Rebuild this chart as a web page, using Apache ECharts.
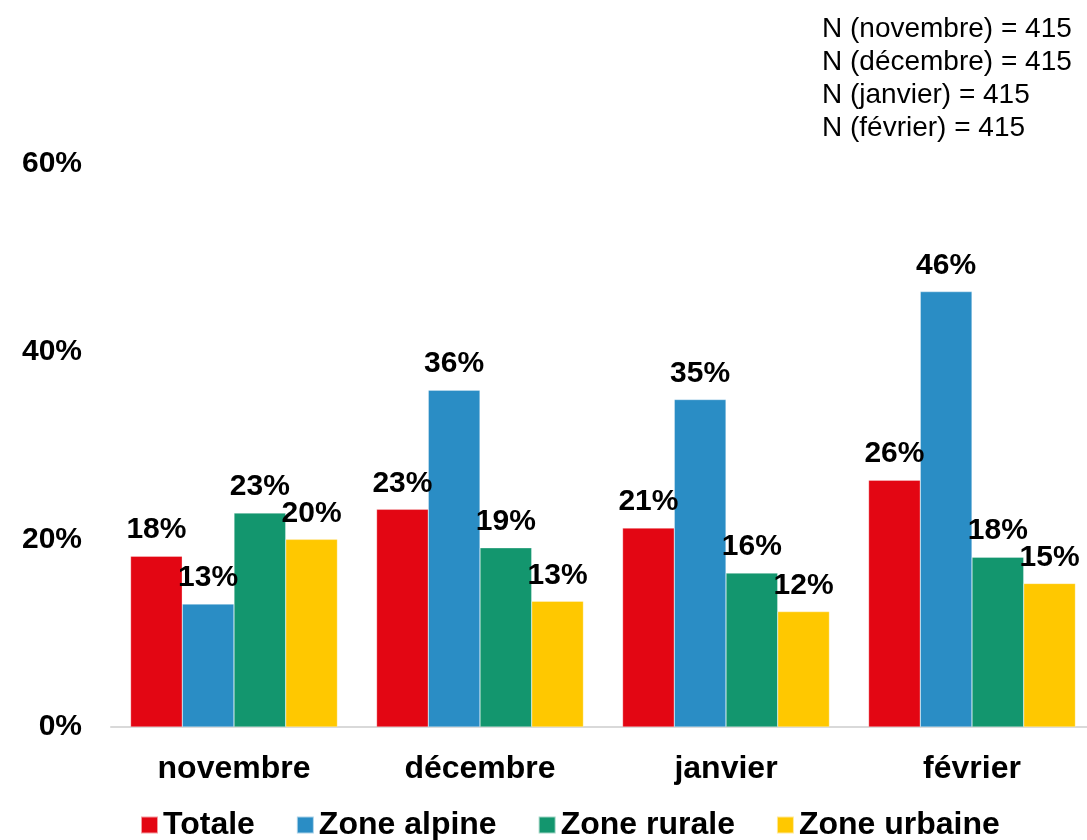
<!DOCTYPE html>
<html><head><meta charset="utf-8">
<script src="https://cdn.jsdelivr.net/npm/echarts@6/dist/echarts.min.js"></script>
<style>html,body{margin:0;padding:0;background:#fff;overflow:hidden}#c{width:1095px;height:840px}</style>
</head><body><div id="c"></div>
<script>
const categories = ['novembre', 'décembre', 'janvier', 'février'];
const totale = [18.2, 23.2, 21.2, 26.3];
const alpine = [13.1, 35.9, 34.9, 46.4];
const rurale = [22.8, 19.1, 16.4, 18.1];
const urbaine = [20.0, 13.4, 12.3, 15.3];
const seriesNames = ['Totale', 'Zone alpine', 'Zone rurale', 'Zone urbaine'];
const yTicks = [0, 20, 40, 60];
const notes = ['N (novembre) = 415', 'N (décembre) = 415', 'N (janvier) = 415', 'N (février) = 415'];
const colors = ['#E30613', '#2A8DC5', '#13966E', '#FFC800'];

const font = '"Liberation Sans", Arial, sans-serif';
const chart = echarts.init(document.getElementById('c'));
const mk = (name, data, i) => ({
  name, type: 'bar', data, barGap: '0%', barCategoryGap: '15.9%',
  itemStyle: { color: colors[i], borderColor: 'rgba(255,255,255,0.6)', borderWidth: 0.5 },
  label: { show: true, position: 'top', distance: 11, formatter: p => Math.round(p.value) + '%',
    fontFamily: font, fontWeight: 'bold', fontSize: 30, color: '#000' },
  emphasis: { disabled: true }
});
chart.setOption({
  animation: false,
  textStyle: { fontFamily: font },
  grid: { left: 111, right: 0, top: 164, bottom: 113, containLabel: false },
  xAxis: { type: 'category', data: categories,
    axisLine: { lineStyle: { color: '#D9D9D9', width: 2 } }, axisTick: { show: false },
    axisLabel: { fontFamily: font, fontWeight: 'bold', fontSize: 32, color: '#000', margin: 26 } },
  yAxis: { type: 'value', min: yTicks[0], max: yTicks[yTicks.length - 1], interval: 20,
    splitLine: { show: false }, axisLine: { show: false }, axisTick: { show: false },
    axisLabel: { fontFamily: font, fontWeight: 'bold', fontSize: 30, color: '#000', margin: 29,
      formatter: v => v + '%' } },
  legend: { bottom: -6, left: 135, itemWidth: 17, itemHeight: 17, itemGap: 41,
    icon: 'rect', data: seriesNames,
    textStyle: { fontFamily: font, fontWeight: 'bold', fontSize: 32, color: '#000', padding: [0, 0, 0, 0] } },
  graphic: notes.map((t, i) => ({ type: 'text', left: 822, top: 15 + i * 33,
    style: { text: t, fontFamily: font, fontSize: 28, fill: '#000' } })),
  series: [mk(seriesNames[0], totale, 0), mk(seriesNames[1], alpine, 1), mk(seriesNames[2], rurale, 2), mk(seriesNames[3], urbaine, 3)]
});
</script></body></html>
